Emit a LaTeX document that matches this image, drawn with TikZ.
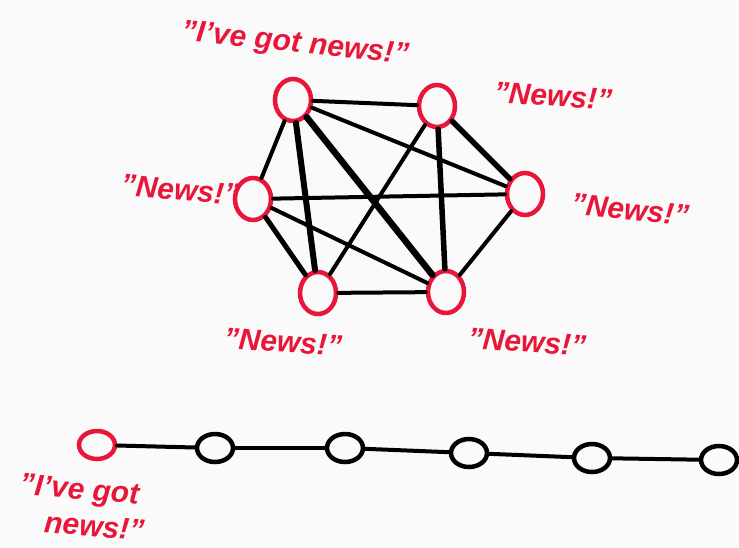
\documentclass[tikz,border=0pt]{standalone}
\usepackage{fontspec}
\setmainfont{Liberation Sans}
\usetikzlibrary{shapes.geometric}
\definecolor{newsred}{HTML}{E8173A}
\definecolor{paper}{HTML}{FAFAFA}
\begin{document}
\begin{tikzpicture}[x=1pt, y=-1pt,
    person/.style={ellipse, draw=newsred, line width=4.5pt, minimum width=36pt, minimum height=42pt, inner sep=0pt},
    dot/.style={ellipse, draw=black, line width=4.5pt, minimum width=36pt, minimum height=28pt, inner sep=0pt},
    link/.style={line width=4pt, line cap=round},
    shout/.style={text=newsred, font=\bfseries\itshape\fontsize{30}{36}\selectfont, align=center}]
    % paper
    \fill[paper] (0,0) rectangle (739,547);
    \useasboundingbox (0,0) rectangle (739,547);

    % complete graph: everyone knows everyone
    \node[person] (a) at (293,100) {};
    \node[person] (b) at (437,106) {};
    \node[person] (c) at (525,194) {};
    \node[person] (d) at (446,292) {};
    \node[person] (e) at (318,293) {};
    \node[person] (f) at (253,199) {};

    \draw[link] (a) -- (b);
    \draw[link] (a) -- (f);
    \draw[link, line width=6pt] (a) -- (e);
    \draw[link, line width=6.5pt] (a) -- (d);
    \draw[link] (a) -- (c);
    \draw[link, line width=5.5pt] (b) -- (c);
    \draw[link] (b) -- (e);
    \draw[link, line width=5.5pt] (b) -- (d);
    \draw[link] (f) -- (c);
    \draw[link] (f) -- (d);
    \draw[link, line width=5pt] (f) -- (e);
    \draw[link] (e) -- (d);
    \draw[link] (c) -- (d);

    % labels
    \node[shout, rotate=-6] (ta) at (295,45) {"I've got news!"};
    \node[shout, rotate=-4] (tb) at (553,96) {"News!"};
    \node[shout, rotate=-6] (tc) at (630,210) {"News!"};
    \node[shout, rotate=-4] (td) at (527,342) {"News!"};
    \node[shout, rotate=-4] (te) at (283,342) {"News!"};
    \node[shout, rotate=-5] (tf) at (180,190) {"News!"};

    % chain: news passed along one by one
    \node[dot, draw=newsred] (p1) at (97,445) {};
    \node[dot] (p2) at (215,448) {};
    \node[dot] (p3) at (345,448) {};
    \node[dot] (p4) at (469,453) {};
    \node[dot] (p5) at (592,458) {};
    \node[dot] (p6) at (719,460) {};

    \draw[link] (p1) -- (p2);
    \draw[link] (p2) -- (p3);
    \draw[link] (p3) -- (p4);
    \draw[link] (p4) -- (p5);
    \draw[link] (p5) -- (p6);

    \node[shout, rotate=-5] (tp) at (78,507) {"I've got\\\hspace*{1.2em}news!"};
\end{tikzpicture}
\end{document}
